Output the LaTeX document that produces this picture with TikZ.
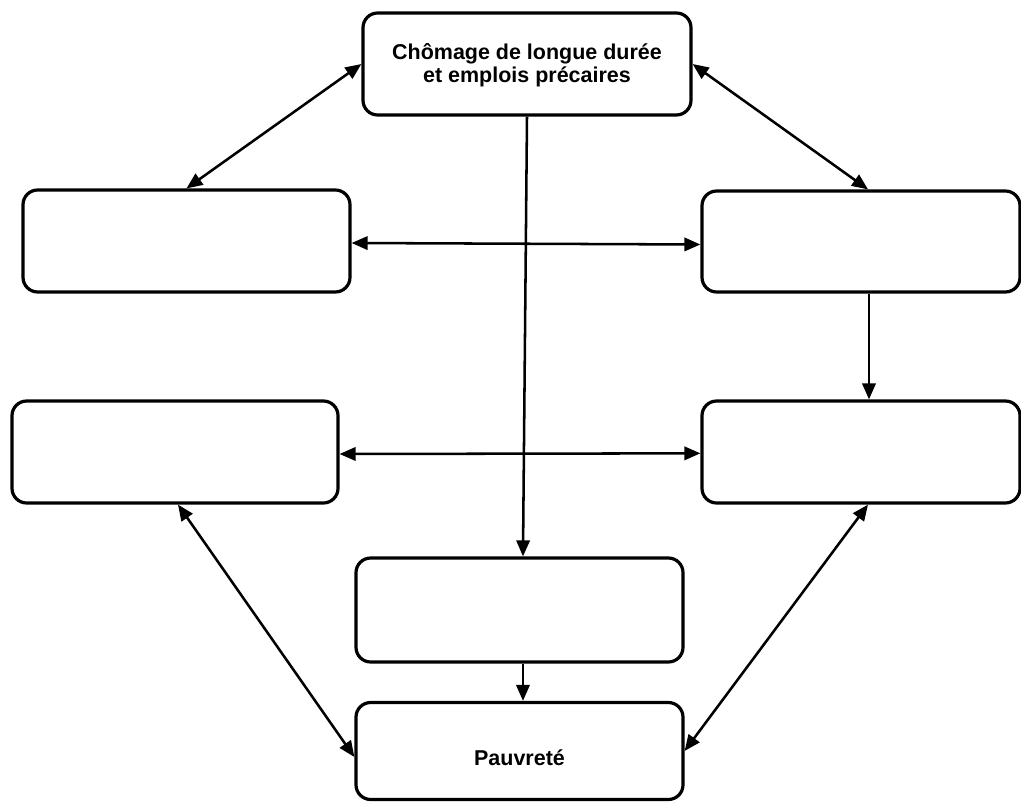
\documentclass[tikz,border=0pt]{standalone}
\usepackage{fontspec}
\setmainfont{Liberation Sans}
\usetikzlibrary{arrows.meta,calc}
\begin{document}
\begin{tikzpicture}[x=0.75pt,y=-0.75pt,
  box/.style={draw,line width=2.4pt,rounded corners=11pt,inner sep=0pt,
    font=\bfseries\fontsize{16.1}{17.5}\selectfont,align=center},
  link/.style={line width=1.9pt,-{Triangle[length=12pt,width=10pt]}},
  both/.style={line width=1.9pt,{Triangle[length=12pt,width=10pt]}-{Triangle[length=12pt,width=10pt]}}]
\useasboundingbox (0,0) rectangle (1021,802);
\node[box,minimum width=246pt,minimum height=76.5pt] (top) at (527,64) {\rule{0pt}{14pt}Chômage de longue durée\\et emplois précaires};
\node[box,minimum width=245.25pt,minimum height=76.5pt] (l1) at (186.5,241) {};
\node[box,minimum width=238.5pt,minimum height=75.75pt] (r1) at (861,241.5) {};
\node[box,minimum width=244.5pt,minimum height=76.5pt] (l2) at (175,452) {};
\node[box,minimum width=238.5pt,minimum height=76.5pt] (r2) at (861,452) {};
\node[box,minimum width=245.25pt,minimum height=78pt] (mid) at (519.5,610) {};
\node[box,minimum width=245.25pt,minimum height=72.75pt,text height=21pt,text depth=0pt] (bot) at (519.5,751) {Pauvreté};

\draw[both] (top.west) -- (l1.north);
\draw[both] (top.east) -- ([xshift=5.25pt]r1.north);
\draw[both] ([yshift=-1.5pt]l1.east) -- ([yshift=-2.25pt]r1.west);
\draw[link] (top.south) -- ([xshift=2.6pt]mid.north);
\draw[link] ([xshift=6pt]r1.south) -- ([xshift=6pt]r2.north);
\draw[both] ([yshift=-1.5pt]l2.east) -- ([yshift=-1pt]r2.west);
\draw[both] ([xshift=2.25pt]l2.south) -- ([yshift=-4.5pt]bot.west);
\draw[both] ([xshift=5.25pt]r2.south) -- ([yshift=0pt]bot.east);
\draw[link] ([xshift=2.6pt]mid.south) -- ([xshift=2.6pt]bot.north);
\end{tikzpicture}
\end{document}
